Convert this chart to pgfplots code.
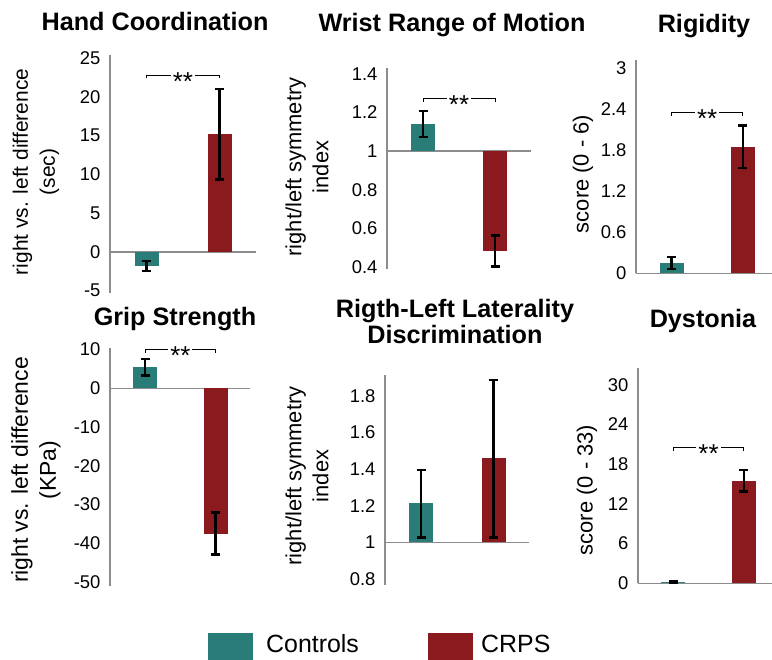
\documentclass[border=0pt]{standalone}
\usepackage{pgfplots}
\pgfplotsset{compat=1.18}
\usepackage{fontspec}
\setmainfont{Liberation Sans}
\definecolor{ctrl}{RGB}{42,124,120}
\definecolor{crps}{RGB}{139,26,30}
\definecolor{axgray}{RGB}{140,140,140}
\pgfplotsset{
  panel/.style={
    scale only axis,
    anchor=south west,
    axis y line*=left,
    axis x line*=middle,
    xtick=\empty,
    xmin=0.5,
    axis line style={draw=axgray, line width=1.3bp, -},
    major tick length=0pt,
    tick style={draw=none},
    yticklabel style={font=\fontsize{18.5}{20}\selectfont, text=black, xshift=-6bp},
    /pgf/number format/assume math mode=true,
    hide obscured x ticks=false,
    hide obscured y ticks=false,
    clip=false,
  },
  bars/.style={ybar, bar width=24bp, bar shift=0pt, draw=none, fill=#1,
    error bars/y dir=both, error bars/y explicit,
    error bars/error bar style={line width=2.4bp, black},
    error bars/error mark options={rotate=90, mark size=4.5bp, line width=2.4bp, black}},
  bracket/.style={black, line width=1bp, mark=none, sharp plot},
}
\newcommand{\stars}{\fontsize{26}{26}\selectfont **}
\begin{document}
\begin{tikzpicture}
\useasboundingbox (0,0) rectangle (772bp,-660bp);
\tikzset{ttl/.style={font=\bfseries\fontsize{25.3}{30}\selectfont, anchor=base},
         ylab/.style={font=\fontsize{22}{27}\selectfont, rotate=90, align=center, anchor=center},
         st/.style={fill=white, inner sep=2bp, anchor=base, yshift=-15bp}}

% Panel 1: Hand Coordination
\begin{axis}[panel, at={(110bp,-293bp)}, width=146bp, height=238bp,
  xmax=2.5, ymin=-5.3, ymax=25.4, ytick={-5,0,5,10,15,20,25}]
\addplot[bars=ctrl] table[x=x,y=y,y error plus=ep,y error minus=em] {
x y ep em
1 -1.8 0.6 0.7
};
\addplot[bars=crps] table[x=x,y=y,y error plus=ep,y error minus=em] {
x y ep em
2 15.2 5.85 5.85
};
\addplot[bracket] coordinates {(1,22.4) (1,22.8) (2,22.8) (2,22.4)};
\node[st] at (axis cs:1.5,22.8) {\stars};
\end{axis}

% Panel 2: Wrist Range of Motion (baseline 1)
\begin{axis}[panel, at={(387bp,-269bp)}, width=144bp, height=201bp,
  xmax=2.5, ymin=-0.61, ymax=0.43,
  ytick={-0.6,-0.4,-0.2,0,0.2,0.4}, yticklabels={0.4,0.6,0.8,1,1.2,1.4}]
\addplot[bars=ctrl] table[x=x,y expr=\thisrow{y}-1,y error plus=ep,y error minus=em] {
x y ep em
1 1.14 0.067 0.067
};
\addplot[bars=crps] table[x=x,y expr=\thisrow{y}-1,y error plus=ep,y error minus=em] {
x y ep em
2 0.485 0.078 0.083
};
\addplot[bracket] coordinates {(1,0.255) (1,0.27) (2,0.27) (2,0.255)};
\node[st] at (axis cs:1.5,0.27) {\stars};
\end{axis}

% Panel 3: Rigidity
\begin{axis}[panel, at={(636bp,-273.3bp)}, width=136bp, height=213.3bp,
  xmax=2.41, ymin=0, ymax=3.12, ytick={0,0.6,1.2,1.8,2.4,3}]
\addplot[bars=ctrl] table[x=x,y=y,y error plus=ep,y error minus=em] {
x y ep em
1 0.15 0.09 0.09
};
\addplot[bars=crps] table[x=x,y=y,y error plus=ep,y error minus=em] {
x y ep em
2 1.85 0.31 0.31
};
\addplot[bracket] coordinates {(1,2.30) (1,2.345) (2,2.345) (2,2.30)};
\node[st] at (axis cs:1.5,2.345) {\stars};
\end{axis}

% Panel 4: Grip Strength
\begin{axis}[panel, at={(110bp,-586bp)}, width=140bp, height=237.7bp,
  xmax=2.49, ymin=-51.06, ymax=10.33, ytick={-50,-40,-30,-20,-10,0,10}]
\addplot[bars=ctrl] table[x=x,y=y,y error plus=ep,y error minus=em] {
x y ep em
1 5.4 2.1 2.1
};
\addplot[bars=crps] table[x=x,y=y,y error plus=ep,y error minus=em] {
x y ep em
2 -37.5 5.4 5.4
};
\addplot[bracket] coordinates {(1,9.1) (1,9.9) (2,9.9) (2,9.1)};
\node[st] at (axis cs:1.5,9.9) {\stars};
\end{axis}

% Panel 5: Right-Left Laterality Discrimination (baseline 1)
\begin{axis}[panel, at={(385bp,-585bp)}, width=144bp, height=210bp,
  xmax=2.49, ymin=-0.233, ymax=0.915,
  ytick={-0.2,0,0.2,0.4,0.6,0.8}, yticklabels={0.8,1,1.2,1.4,1.6,1.8}]
\addplot[bars=ctrl] table[x=x,y expr=\thisrow{y}-1,y error plus=ep,y error minus=em] {
x y ep em
1 1.213 0.182 0.186
};
\addplot[bars=crps] table[x=x,y expr=\thisrow{y}-1,y error plus=ep,y error minus=em] {
x y ep em
2 1.459 0.428 0.432
};
\end{axis}

% Panel 6: Dystonia
\begin{axis}[panel, at={(638bp,-583.3bp)}, width=134bp, height=215bp,
  xmax=2.4, ymin=0, ymax=32.5, ytick={0,6,12,18,24,30}]
\addplot[bars=ctrl] table[x=x,y=y,y error plus=ep,y error minus=em] {
x y ep em
1 0.15 0.1 0.1
};
\addplot[bars=crps] table[x=x,y=y,y error plus=ep,y error minus=em] {
x y ep em
2 15.5 1.65 1.65
};
\addplot[bracket] coordinates {(1,20.05) (1,20.5) (2,20.5) (2,20.05)};
\node[st] at (axis cs:1.5,20.5) {\stars};
\end{axis}

% Titles
\node[ttl] at (155bp,-30bp) {Hand Coordination};
\node[ttl] at (452bp,-31bp) {Wrist Range of Motion};
\node[ttl] at (704bp,-32bp) {Rigidity};
\node[ttl] at (175bp,-325bp) {Grip Strength};
\node[ttl] at (455bp,-317bp) {Rigth-Left Laterality};
\node[ttl] at (455bp,-343bp) {Discrimination};
\node[ttl] at (703bp,-327bp) {Dystonia};

% Y labels
\node[ylab, font=\fontsize{21}{27}\selectfont] at (36bp,-172bp) {right vs. left difference\\(sec)};
\node[ylab] at (307bp,-167bp) {right/left symmetry\\index};
\node[ylab] at (583bp,-174bp) {score (0 - 6)};
\node[ylab, font=\fontsize{23}{28}\selectfont] at (36bp,-470bp) {right vs. left difference\\(KPa)};
\node[ylab] at (307bp,-476bp) {right/left symmetry\\index};
\node[ylab] at (587bp,-490bp) {score (0 - 33)};

% Legend
\fill[ctrl] (208bp,-633bp) rectangle (253bp,-664bp);
\node[anchor=base west, inner sep=0pt, font=\fontsize{25}{30}\selectfont] at (266bp,-652bp) {Controls};
\fill[crps] (428bp,-633bp) rectangle (473bp,-664bp);
\node[anchor=base west, inner sep=0pt, font=\fontsize{25}{30}\selectfont] at (481bp,-652bp) {CRPS};
\end{tikzpicture}
\end{document}
